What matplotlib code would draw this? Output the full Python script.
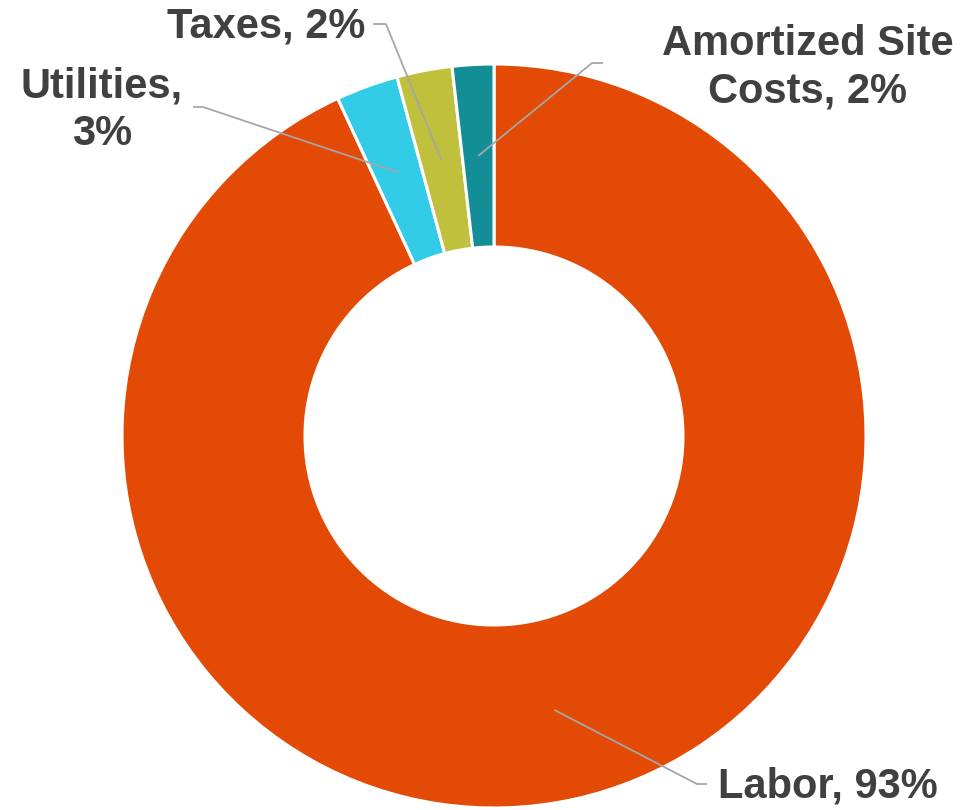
import matplotlib.pyplot as plt
import numpy as np

plt.rcParams['font.family'] = ['Liberation Sans', 'DejaVu Sans']

# Cost breakdown (share of total, %)
categories = ['Labor', 'Utilities', 'Taxes', 'Amortized Site Costs']
shares = [93.1, 2.7, 2.4, 1.8]
colors = ['#E24A06', '#33CCE8', '#C0C03C', '#138E96']

# label text, text position, elbow point of the leader line, text alignment
label_text = ['Labor, {}%', 'Utilities,\n{}%', 'Taxes, {}%', 'Amortized Site\nCosts, {}%']
label_xy = [(718, 786), (102, 110), (365, 26), (808, 68)]
elbow_xy = [(697, 784), (203, 107), (386, 24), (592, 63)]
end_x = [707, 193, 373, 603]
ha = ['left', 'center', 'right', 'center']

fig = plt.figure(figsize=(9.66, 8.10), dpi=100)
ax = fig.add_axes([0, 0, 1, 1])

cx, cy = 494, 436
r_out, r_in = 372, 189

# y axis points down, so draw counterclockwise in data space -> clockwise on screen
wedges, _ = ax.pie(shares, colors=colors, startangle=-90, counterclock=True,
                   center=(cx, cy), radius=r_out, frame=True,
                   wedgeprops=dict(width=r_out - r_in, edgecolor='white', linewidth=2.2))
ax.set_xlim(0, 966)
ax.set_ylim(810, 0)
ax.set_aspect('equal')
ax.axis('off')

r_mid = (r_out + r_in) / 2
for i, w in enumerate(wedges):
    mid = np.deg2rad((w.theta1 + w.theta2) / 2)
    sx = cx + r_mid * np.cos(mid)
    sy = cy + r_mid * np.sin(mid)
    ex, ey = elbow_xy[i]
    ax.plot([sx, ex, end_x[i]], [sy, ey, ey], color='#A6A6A6', lw=1.3,
            solid_capstyle='butt')
    ax.text(label_xy[i][0], label_xy[i][1], label_text[i].format(round(shares[i])),
            ha=ha[i], va='center', fontsize=30, fontweight='bold',
            color='#404040', linespacing=1.25)

fig.savefig('out.png', dpi=100)
